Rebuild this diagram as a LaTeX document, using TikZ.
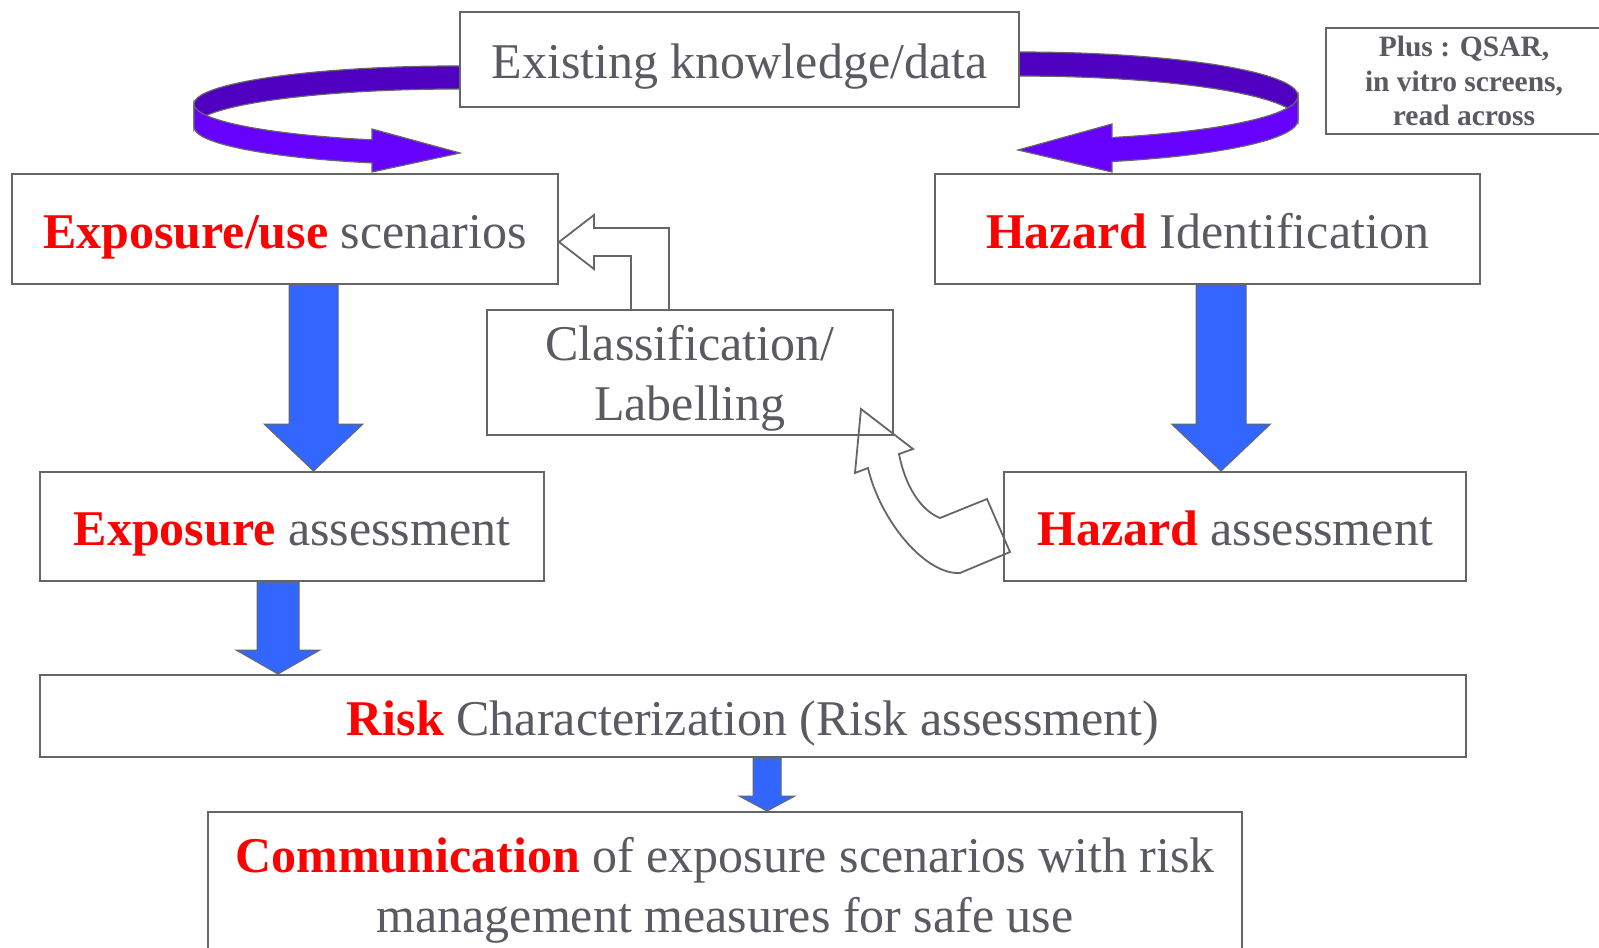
\documentclass[tikz,border=0pt]{standalone}
\usepackage{fontspec}
\setmainfont{Liberation Serif}
\usetikzlibrary{calc}
\definecolor{boxgray}{HTML}{666666}
\definecolor{txtgray}{HTML}{5A5A62}
\definecolor{hired}{HTML}{FF0000}
\definecolor{blockblue}{HTML}{3366FF}
\definecolor{backpurple}{HTML}{5000C0}
\definecolor{frontpurple}{HTML}{6600FF}
\newcommand{\hl}[1]{\textcolor{hired}{\bfseries #1}}
\newcommand{\bluedown}[5]{%
  \filldraw[bluearrow] let \p1=(#1), \p2=(#2) in
    (\x1-#3,\y1) -- (\x1+#3,\y1) -- (\x1+#3,\y2+#5) -- (\x1+#4,\y2+#5)
    -- (\x1,\y2) -- (\x1-#4,\y2+#5) -- (\x1-#3,\y2+#5) -- cycle;}
\tikzset{
  box/.style={draw=boxgray, line width=2pt, fill=white, inner sep=0pt,
    text=txtgray, font=\fontsize{50}{60}\selectfont},
  oneline/.style={box, text height=40pt, text depth=2pt},
  bluearrow/.style={fill=blockblue, draw=boxgray, line width=1pt},
  hollow/.style={draw=boxgray, line width=1.8pt, line join=miter},
  ribbon/.style={draw=boxgray, line width=1.2pt},
}

\begin{document}
\begin{tikzpicture}[x=1pt, y=-1pt]
\useasboundingbox (0,0) rectangle (1599,948);
% purple loops round the top box
\filldraw[ribbon, fill=backpurple] (483.2,66.1) arc[start angle=275, end angle=180, x radius=266, y radius=38]
  -- ++(0,23) arc[start angle=180, end angle=275, x radius=266, y radius=38] -- cycle;
\filldraw[ribbon, fill=frontpurple] (194,104) arc[start angle=180, end angle=109.3, x radius=266, y radius=38]
  -- (372,129) -- (460,153) -- (372,172) -- (372.1,162.9)
  arc[start angle=109.3, end angle=180, x radius=266, y radius=38] -- cycle;
\filldraw[ribbon, fill=backpurple] (995.8,52.2) arc[start angle=265, end angle=360, x radius=278, y radius=44]
  -- ++(0,24) arc[start angle=360, end angle=265, x radius=278, y radius=44] -- cycle;
\filldraw[ribbon, fill=frontpurple] (1298,96) arc[start angle=0, end angle=70.7, x radius=278, y radius=44]
  -- (1112,124) -- (1018,150) -- (1112,172) -- (1111.9,161.5)
  arc[start angle=70.7, end angle=0, x radius=278, y radius=44] -- cycle;

% boxes
\node[oneline, minimum width=559pt, minimum height=95pt] (exist) at (739.5,59.5) {Existing knowledge/data};
\node[box, minimum width=276pt, minimum height=106pt, align=center,
  font=\bfseries\fontsize{29.5}{34.5}\selectfont] (plus) at (1464,81) {Plus : QSAR,\\in vitro screens,\\read across};
\node[oneline, minimum width=546pt, minimum height=110pt] (expuse) at (285,229) {\hl{Exposure/use} scenarios};
\node[oneline, minimum width=545pt, minimum height=110pt] (hazid) at (1207.5,229) {\hl{Hazard} Identification};
\node[box, minimum width=406pt, minimum height=125pt, align=center, text depth=0pt] (class) at (690,372.5)
  {Classification/\\Labelling};
\node[oneline, minimum width=504pt, minimum height=109pt] (expass) at (292,526.5) {\hl{Exposure} assessment};
\node[oneline, minimum width=462pt, minimum height=109pt] (hazass) at (1235,526.5) {\hl{Hazard} assessment};
\node[oneline, minimum width=1426pt, minimum height=82pt] (risk) at (753,716) {\hl{Risk} Characterization (Risk assessment)};
\node[box, minimum width=1034pt, minimum height=156pt, align=center] (comm) at (725,890)
  {\hl{Communication} of exposure scenarios with risk\\management measures for safe use};

% block arrows
\bluedown{313.5,0 |- expuse.south}{313.5,0 |- expass.north}{24.5}{49.5}{47}
\bluedown{1221,0 |- hazid.south}{1221,0 |- hazass.north}{25}{49.5}{47}
\bluedown{278,0 |- expass.south}{278,0 |- risk.north}{21}{42}{24}
\bluedown{767,0 |- risk.south}{767,0 |- comm.north}{14}{28}{15}

% hollow arrows
\draw[hollow] (631,0 |- class.north) -- (631,256) -- (594,256) -- (594,269) -- (expuse.east |- 0,242)
  -- (594,215) -- (594,228) -- (669,228) -- (669,0 |- class.north);
\draw[hollow] (861,409) -- (913,449) -- (899,454) .. controls (905,485) and (920,510) .. (940,518)
  -- (987,499) -- (1010,552) -- (960,573) .. controls (925,575) and (880,520) .. (868,468)
  -- (855,473) -- cycle;
\end{tikzpicture}
\end{document}
